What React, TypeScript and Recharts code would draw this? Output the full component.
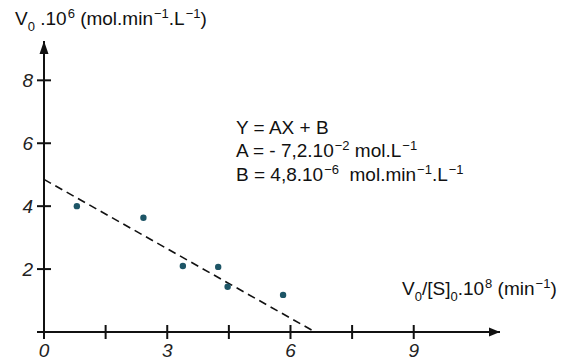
import React from 'react';
import { ScatterChart, Scatter, XAxis, YAxis, ReferenceLine, ReferenceDot } from 'recharts';

const ratio = [0.8, 2.42, 3.38, 4.24, 4.47, 5.82];
const rate = [4.0, 3.63, 2.1, 2.07, 1.44, 1.18];
const fitX = [0, 6.6];
const fitY = [4.85, 0];
const xTicks = [0, 1.5, 3, 4.5, 6, 7.5, 9];
const xLabelled = [0, 3, 6, 9];
const yTicks = [0, 2, 4, 6, 8];
const xMax = 11.1;
const yMax = 9.25;

const points = ratio.map((x, i) => ({ x, y: rate[i] }));

const ink = '#111';
const font = '"Liberation Sans", Arial, sans-serif';

type Seg = { t: string; s: number };
const n = (t: string): Seg => ({ t, s: 0 });
const sup = (t: string): Seg => ({ t, s: -7 });
const sub = (t: string): Seg => ({ t, s: 6 });

const Rich = ({ x, y, segs }: { x: number; y: number; segs: Seg[] }) => {
  let cur = 0;
  return (
    <text x={x} y={y} fontFamily={font} fontSize={19} fill={ink} style={{ whiteSpace: 'pre' }}>
      {segs.map((g, i) => {
        const dy = g.s - cur;
        cur = g.s;
        return (
          <tspan key={i} dy={dy} dx={g.s < 0 ? 1 : 0} fontSize={g.s ? 13 : 19}>
            {g.t}
          </tspan>
        );
      })}
    </text>
  );
};

const XTick = (props: any) => {
  const { x, y, payload } = props;
  return (
    <g>
      <line x1={x} x2={x} y1={y - 7} y2={y + 7} stroke={ink} strokeWidth={2} />
      {xLabelled.includes(payload.value) && (
        <text x={x} y={y + 25} textAnchor="middle" fontFamily={font} fontStyle="italic" fontSize={19} fill="#222">
          {payload.value}
        </text>
      )}
    </g>
  );
};

const YTick = (props: any) => {
  const { x, y, payload } = props;
  return (
    <g>
      <line x1={x - 7} x2={x + 7} y1={y} y2={y} stroke={ink} strokeWidth={2} />
      {payload.value !== 0 && (
        <text x={x - 11} y={y} dy="0.36em" textAnchor="end" fontFamily={font} fontStyle="italic" fontSize={19} fill="#222">
          {payload.value}
        </text>
      )}
    </g>
  );
};

const ArrowRight = (p: any) => (
  <polygon points={`${p.cx},${p.cy} ${p.cx - 11},${p.cy - 4.5} ${p.cx - 11},${p.cy + 4.5}`} fill={ink} />
);
const ArrowUp = (p: any) => (
  <polygon points={`${p.cx},${p.cy} ${p.cx - 4.5},${p.cy + 13} ${p.cx + 4.5},${p.cy + 13}`} fill={ink} />
);

export default function App() {
  return (
    <div style={{ position: 'absolute', left: 0, top: 0, width: 565, height: 362, background: '#fff' }}>
      <ScatterChart width={565} height={362} margin={{ top: 41, right: 65, bottom: 29, left: 43 }}>
        <XAxis
          type="number"
          dataKey="x"
          domain={[0, xMax]}
          ticks={xTicks}
          height={1}
          tickSize={0}
          tickMargin={0}
          tickLine={false}
          tick={<XTick />}
          axisLine={{ stroke: ink, strokeWidth: 2 }}
          allowDataOverflow
        />
        <YAxis
          type="number"
          dataKey="y"
          domain={[0, yMax]}
          ticks={yTicks}
          width={1}
          tickSize={0}
          tickMargin={0}
          tickLine={false}
          tick={<YTick />}
          axisLine={{ stroke: ink, strokeWidth: 2 }}
          allowDataOverflow
        />
        <ReferenceLine
          segment={[
            { x: fitX[0], y: fitY[0] },
            { x: fitX[1], y: fitY[1] },
          ]}
          stroke={ink}
          strokeWidth={1.6}
          strokeDasharray="8 5"
          ifOverflow="visible"
        />
        <Scatter
          data={points}
          isAnimationActive={false}
          shape={(p: any) => <circle cx={p.cx} cy={p.cy} r={3.2} fill="#1d5566" />}
        />
        <ReferenceDot x={xMax} y={0} ifOverflow="visible" shape={<ArrowRight />} />
        <ReferenceDot x={0} y={yMax} ifOverflow="visible" shape={<ArrowUp />} />
      </ScatterChart>
      <svg width={565} height={362} style={{ position: 'absolute', left: 0, top: 0, pointerEvents: 'none' }}>
        <Rich x={15} y={25} segs={[n('V'), sub('0'), n(' .10'), sup('6'), n(' (mol.min'), sup('−1'), n('.L'), sup('−1'), n(')')]} />
        <Rich x={402} y={295} segs={[n('V'), sub('0'), n('/[S]'), sub('0'), n('.10'), sup('8'), n(' (min'), sup('−1'), n(')')]} />
        <Rich x={236} y={134} segs={[n('Y = AX + B')]} />
        <Rich x={236} y={157} segs={[n('A = - 7,2.10'), sup('−2'), n(' mol.L'), sup('−1')]} />
        <Rich x={236} y={181} segs={[n('B = 4,8.10'), sup('−6'), n('  mol.min'), sup('−1'), n('.L'), sup('−1')]} />
      </svg>
    </div>
  );
}
